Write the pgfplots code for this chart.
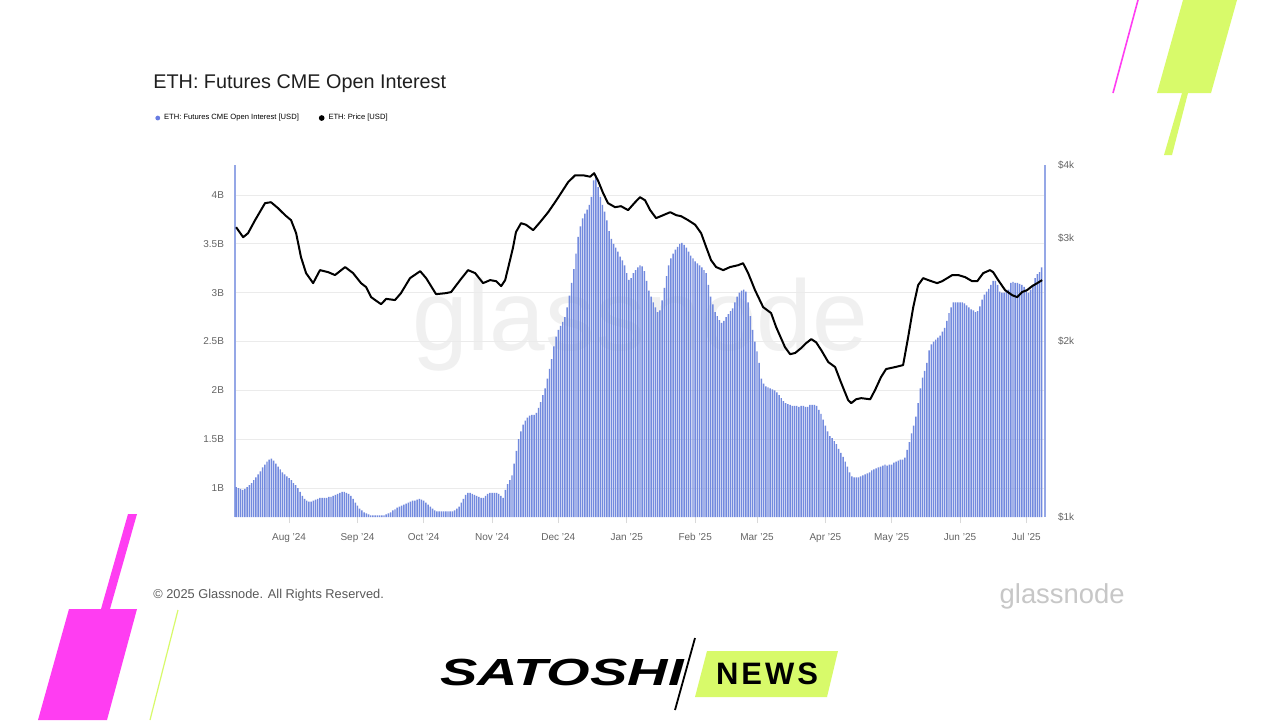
\documentclass[border=0pt]{standalone}
\usepackage{pgfplots}
\pgfplotsset{compat=1.18}
\usepackage{fontspec}
\setmainfont{Liberation Sans}

\definecolor{oiblue}{RGB}{114,138,222}
\definecolor{dotblue}{RGB}{104,124,226}
\definecolor{mag}{RGB}{255,61,242}
\definecolor{lime}{RGB}{216,250,106}
\definecolor{ticktext}{RGB}{100,100,100}

\begin{document}
\begin{tikzpicture}
% page in pixel units: 1px = 0.5pt, y downwards
\begin{scope}[x=0.5pt,y=-0.5pt]
  \fill[white] (0,0) rectangle (1280,720);
  % decorations
  \draw[mag, line width=0.8pt] (1138,0) -- (1113,93);
  \fill[lime] (1183,0) -- (1237,0) -- (1211,93) -- (1157,93) -- cycle;
  \fill[lime] (1182,93) -- (1188,93) -- (1172,155) -- (1164,155) -- cycle;
  \fill[mag] (128,514) -- (137,514) -- (110,609) -- (101,609) -- cycle;
  \fill[mag] (69,609) -- (137,609) -- (107,720) -- (38,720) -- cycle;
  \draw[lime, line width=0.6pt] (178,610) -- (150,720);
  % watermark
  \node[text=black!6, font=\fontsize{50}{50}\selectfont] at (640,325) {glassnode};
  % title
  \node[anchor=west, text=black!88, font=\fontsize{9.9}{11}\selectfont, inner sep=0] at (153,84) {ETH: Futures CME Open Interest};
  % footer
  \node[anchor=west, text=black!65, font=\fontsize{6.4}{7}\selectfont, inner sep=0] at (153,595) {© 2025 Glassnode. All Rights Reserved.};
  \node[anchor=east, text=black!22, font=\fontsize{13.7}{14}\selectfont, inner sep=0] at (1125,596) {glassnode};
  % logo
  \node[font=\fontsize{18.9}{19}\selectfont\bfseries\itshape, inner sep=0] at (562,672) {\scalebox{1.48}[1]{SATOSHI}};
  \draw[black, line width=0.9pt] (695,638) -- (675,710);
  \fill[lime] (707,651) -- (838,651) -- (827,697) -- (695,697) -- cycle;
  \node[font=\fontsize{15.5}{16}\selectfont\bfseries, inner sep=0] at (767,674) {N\kern1.5pt E\kern1.5pt W\kern1.5pt S};
\end{scope}

\begin{axis}[
    at={(117.5pt,-258.5pt)}, anchor=south west,
    width=405pt, height=176pt, scale only axis,
    xmin=-24.5, xmax=342.5,
    ymin=0.703, ymax=4.307,
    ybar, bar width=0.66, bar shift=0pt,
    axis x line*=bottom, axis y line*=left,
    x axis line style={draw=none},
    y axis line style={-, draw=oiblue!75, line width=0.6pt},
    xtick={0,31,61,92,122,153,184,212,243,273,304,334},
    xticklabels={Aug '24,Sep '24,Oct '24,Nov '24,Dec '24,Jan '25,Feb '25,Mar '25,Apr '25,May '25,Jun '25,Jul '25},
    ytick={1,1.5,2,2.5,3,3.5,4},
    yticklabels={1B,1.5B,2B,2.5B,3B,3.5B,4B},
    tick align=outside, major tick length=3pt,
    xtick style={draw=black!15, line width=0.4pt},
    ytick style={draw=none},
    tick label style={font=\fontsize{5}{6}\selectfont, text=ticktext},
    yticklabel style={xshift=1pt},
    xticklabel style={yshift=-1.5pt},
    ymajorgrids, grid style={black!8, line width=0.4pt},
    legend style={at={(-0.0988,1.1335)}, anchor=west, draw=none, fill=none,
      font=\fontsize{3.8}{4.5}\selectfont, legend columns=-1,
      /tikz/every even column/.append style={column sep=8pt},
      inner sep=0pt},
    legend cell align=left,
]
\addplot[fill=oiblue, draw=none,
  legend image code/.code={\fill[dotblue] (1.2pt,0pt) circle (1.2pt);}]
coordinates {
(-24,1.01)(-23,1.00)(-22,0.99)(-21,0.98)(-20,0.99)(-19,1.01)(-18,1.03)(-17,1.05)(-16,1.08)(-15,1.11)
(-14,1.14)(-13,1.17)(-12,1.21)(-11,1.24)(-10,1.27)(-9,1.29)(-8,1.30)(-7,1.28)(-6,1.25)(-5,1.22)
(-4,1.19)(-3,1.16)(-2,1.14)(-1,1.12)(0,1.10)(1,1.08)(2,1.05)(3,1.03)(4,1.00)(5,0.96)
(6,0.92)(7,0.89)(8,0.87)(9,0.86)(10,0.86)(11,0.87)(12,0.88)(13,0.89)(14,0.90)(15,0.90)
(16,0.90)(17,0.90)(18,0.91)(19,0.91)(20,0.92)(21,0.93)(22,0.94)(23,0.95)(24,0.96)(25,0.96)
(26,0.95)(27,0.94)(28,0.92)(29,0.89)(30,0.85)(31,0.82)(32,0.79)(33,0.77)(34,0.75)(35,0.74)
(36,0.73)(37,0.72)(38,0.72)(39,0.72)(40,0.72)(41,0.72)(42,0.72)(43,0.72)(44,0.73)(45,0.74)
(46,0.75)(47,0.77)(48,0.78)(49,0.80)(50,0.81)(51,0.82)(52,0.83)(53,0.84)(54,0.85)(55,0.86)
(56,0.87)(57,0.87)(58,0.88)(59,0.89)(60,0.88)(61,0.87)(62,0.85)(63,0.83)(64,0.81)(65,0.79)
(66,0.77)(67,0.76)(68,0.76)(69,0.76)(70,0.76)(71,0.76)(72,0.76)(73,0.76)(74,0.76)(75,0.77)
(76,0.79)(77,0.81)(78,0.85)(79,0.89)(80,0.93)(81,0.95)(82,0.95)(83,0.94)(84,0.93)(85,0.92)
(86,0.91)(87,0.90)(88,0.90)(89,0.92)(90,0.94)(91,0.95)(92,0.95)(93,0.95)(94,0.95)(95,0.94)
(96,0.92)(97,0.90)(98,0.98)(99,1.04)(100,1.08)(101,1.13)(102,1.25)(103,1.38)(104,1.50)(105,1.58)
(106,1.65)(107,1.69)(108,1.72)(109,1.74)(110,1.75)(111,1.75)(112,1.77)(113,1.82)(114,1.88)(115,1.95)
(116,2.02)(117,2.12)(118,2.22)(119,2.32)(120,2.45)(121,2.55)(122,2.62)(123,2.66)(124,2.70)(125,2.75)
(126,2.85)(127,2.97)(128,3.10)(129,3.24)(130,3.40)(131,3.57)(132,3.68)(133,3.76)(134,3.81)(135,3.85)
(136,3.90)(137,3.98)(138,4.15)(139,4.20)(140,4.08)(141,3.98)(142,3.90)(143,3.83)(144,3.74)(145,3.63)
(146,3.55)(147,3.50)(148,3.46)(149,3.42)(150,3.37)(151,3.33)(152,3.28)(153,3.20)(154,3.13)(155,3.15)
(156,3.20)(157,3.23)(158,3.26)(159,3.28)(160,3.27)(161,3.22)(162,3.12)(163,3.02)(164,2.96)(165,2.90)
(166,2.85)(167,2.80)(168,2.82)(169,2.92)(170,3.05)(171,3.17)(172,3.28)(173,3.35)(174,3.40)(175,3.44)
(176,3.47)(177,3.50)(178,3.51)(179,3.49)(180,3.46)(181,3.42)(182,3.38)(183,3.35)(184,3.32)(185,3.30)
(186,3.28)(187,3.26)(188,3.23)(189,3.20)(190,3.08)(191,2.96)(192,2.88)(193,2.80)(194,2.76)(195,2.72)
(196,2.69)(197,2.71)(198,2.75)(199,2.78)(200,2.81)(201,2.84)(202,2.90)(203,2.96)(204,3.00)(205,3.02)
(206,3.03)(207,3.01)(208,2.90)(209,2.76)(210,2.62)(211,2.50)(212,2.40)(213,2.28)(214,2.12)(215,2.07)
(216,2.04)(217,2.03)(218,2.02)(219,2.01)(220,2.00)(221,1.98)(222,1.95)(223,1.92)(224,1.89)(225,1.87)
(226,1.86)(227,1.85)(228,1.84)(229,1.84)(230,1.84)(231,1.83)(232,1.84)(233,1.84)(234,1.83)(235,1.83)
(236,1.85)(237,1.85)(238,1.85)(239,1.84)(240,1.80)(241,1.76)(242,1.70)(243,1.64)(244,1.58)(245,1.53)
(246,1.51)(247,1.48)(248,1.45)(249,1.40)(250,1.36)(251,1.32)(252,1.27)(253,1.22)(254,1.16)(255,1.12)
(256,1.11)(257,1.11)(258,1.11)(259,1.12)(260,1.13)(261,1.14)(262,1.15)(263,1.16)(264,1.18)(265,1.19)
(266,1.20)(267,1.21)(268,1.22)(269,1.23)(270,1.24)(271,1.23)(272,1.24)(273,1.24)(274,1.26)(275,1.27)
(276,1.28)(277,1.29)(278,1.29)(279,1.31)(280,1.39)(281,1.47)(282,1.56)(283,1.64)(284,1.73)(285,1.87)
(286,2.02)(287,2.13)(288,2.20)(289,2.28)(290,2.41)(291,2.47)(292,2.50)(293,2.52)(294,2.54)(295,2.56)
(296,2.60)(297,2.64)(298,2.71)(299,2.79)(300,2.85)(301,2.90)(302,2.90)(303,2.90)(304,2.90)(305,2.90)
(306,2.89)(307,2.87)(308,2.85)(309,2.83)(310,2.82)(311,2.80)(312,2.81)(313,2.86)(314,2.93)(315,2.98)
(316,3.01)(317,3.04)(318,3.08)(319,3.12)(320,3.12)(321,3.08)(322,3.01)(323,3.00)(324,3.00)(325,3.01)
(326,3.03)(327,3.10)(328,3.11)(329,3.10)(330,3.10)(331,3.09)(332,3.08)(333,3.06)(334,3.03)(335,3.00)
(336,3.03)(337,3.08)(338,3.15)(339,3.19)(340,3.21)(341,3.26)
};
\addlegendentry{ETH: Futures CME Open Interest [USD]}
\addlegendimage{legend image code/.code={\fill[black] (1.2pt,0pt) circle (1.2pt);}}
\addlegendentry{ETH: Price [USD]}
\end{axis}

\begin{axis}[
    at={(117.5pt,-258.5pt)}, anchor=south west,
    width=405pt, height=176pt, scale only axis,
    xmin=-24.5, xmax=342.5,
    ymode=log, ymin=1000, ymax=4000,
    axis x line=none, axis y line*=right,
    y axis line style={-, draw=oiblue!75, line width=0.6pt},
    ytick={1000,2000,3000,4000},
    yticklabels={\$1k,\$2k,\$3k,\$4k},
    ytick style={draw=none}, minor tick num=0,
    log basis y=10,
    tick label style={font=\fontsize{5}{6}\selectfont, text=ticktext},
    yticklabel style={xshift=3pt},
]
\addplot[black, line width=1pt, line join=round, no markers] coordinates {
(-24,3131)(-20.8,3010)(-18.6,3058)(-15.4,3219)(-10.9,3442)(-8.2,3455)(-5,3375)(-1.8,3283)
(0.9,3219)(3.2,3058)(5.4,2783)(7.7,2613)(10.9,2512)(14,2644)(17.7,2623)(20.8,2593)
(25.4,2676)(29,2613)(32.6,2512)(34.9,2473)(37.2,2377)(39,2350)(41.7,2312)(44,2361)
(48,2350)(50.7,2415)(54.8,2562)(59.4,2633)(62.1,2562)(66.6,2405)(71.1,2415)(73.4,2425)
(77.5,2542)(81.1,2644)(84.3,2613)(87.9,2512)(91.1,2542)(93.8,2531)(96.1,2483)(97.9,2542)
(100.1,2749)(101.5,2894)(102.8,3071)(105.1,3181)(107.4,3161)(110.6,3095)(113.7,3193)(117.4,3322)
(120.5,3455)(123.2,3580)(126.4,3738)(129.6,3842)(133.2,3842)(136.4,3820)(138.2,3873)(140,3760)
(142.3,3580)(144.5,3442)(147.7,3388)(150.4,3401)(153.6,3349)(156.8,3455)(159,3524)(161.3,3481)
(163.6,3349)(166.3,3245)(169.5,3283)(172.7,3322)(175.4,3283)(177.6,3270)(180.8,3219)(184,3161)
(186.7,3058)(189,2894)(191.2,2749)(193.5,2676)(196.7,2644)(199.8,2676)(203.5,2696)(205.7,2717)
(208,2613)(211.1,2444)(214.8,2285)(218.4,2232)(220.7,2112)(224.7,1952)(227,1899)(229.3,1908)
(232,1945)(234.3,1984)(236.6,2015)(238.8,1990)(241.1,1930)(244.3,1841)(247.4,1805)(250.2,1694)
(253.3,1585)(254.7,1566)(256.9,1590)(259.2,1597)(263.3,1590)(265.5,1649)(268.2,1735)(270.5,1791)
(274.6,1805)(278.2,1819)(280.5,2031)(282.8,2285)(285,2492)(287.3,2562)(289.6,2542)(293.6,2512)
(295.9,2531)(298.2,2562)(300.5,2593)(303.2,2593)(306.3,2572)(309.5,2531)(311.8,2531)(314.5,2613)
(317.6,2644)(319,2623)(321.3,2542)(324.4,2444)(327.6,2396)(329.9,2377)(332.1,2425)(334.4,2444)
(336.7,2483)(339,2512)(341.2,2542)
};
\end{axis}

\pgfresetboundingbox
\path[use as bounding box] (0pt,0pt) rectangle (640pt,-360pt);
\end{tikzpicture}
\end{document}
